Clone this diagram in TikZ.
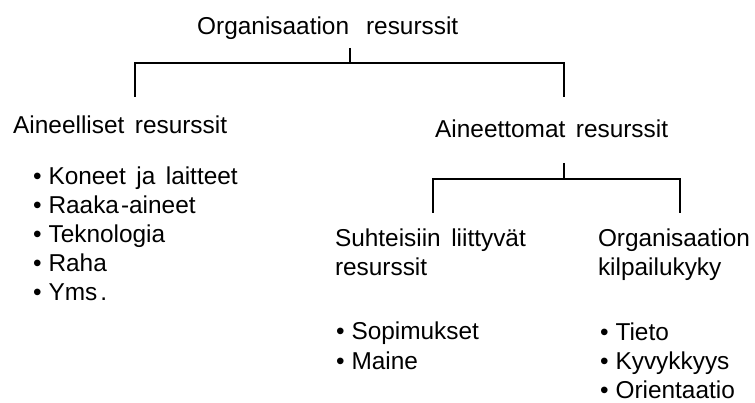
\documentclass[tikz,border=0pt]{standalone}
\usepackage{fontspec}
\setmainfont{Liberation Sans}
\usetikzlibrary{matrix,positioning}

\newcommand{\nodefont}{\fontsize{24.4}{29}\selectfont\spaceskip=10.5pt\relax}
\newcommand{\itm}{•\hspace{7pt}}
\tikzset{
	txt/.style={font=\nodefont},
	heading/.style={txt,anchor=base west,inner sep=0pt},
	items/.style={
		matrix of nodes,inner sep=0pt,outer sep=0pt,row sep=5pt,anchor=north west,
		nodes={txt,anchor=base west,inner sep=0pt,text height=18pt,text depth=6pt}
	},
	branch/.style={line width=1.6pt}
}

\begin{document}
\begin{tikzpicture}[x=1pt,y=-1pt]
	\useasboundingbox (0,0) rectangle (755,403);
	% top level
	\node[heading] (root) at (197,35) {Organisaation\hspace{17pt}resurssit};
	\node[heading] (tang) at (13,134) {Aineelliset resurssit};
	\node[heading] (intang) at (435,138) {Aineettomat resurssit};
			\matrix(tlist)[items] at (33,167)
			{
	\itm Koneet ja laitteet \\
	\itm Raaka\hspace{2pt}-aineet \\
	\itm Teknologia \\
	\itm Raha \\
	\itm Yms\hspace{3pt}. \\
			};
	% second level
			\matrix(rel)[items] at (335,229)
			{
	Suhteisiin liittyvät \\
	resurssit \\
			};
			\matrix(comp)[items] at (598,229)
			{
	Organisaation \\
	kilpailukyky \\
			};
			\matrix(rlist)[items] at (336,322)
			{
	\itm Sopimukset \\
	\itm Maine \\
			};
			\matrix(clist)[items] at (600,322)
			{
	\itm Tieto \\
	\itm Kyvykkyys \\
	\itm Orientaatio \\
			};
	% brackets
	\coordinate (rootfoot) at (350,48);
	\coordinate (b1) at (350,63);
	\coordinate (tfoot) at (135,97);
	\coordinate (ifoot) at (564,97);
	\draw[branch] (rootfoot) -- (b1);
	\draw[branch] (tfoot) |- (b1) -| (ifoot);
	\coordinate (intfoot) at (564,163);
	\coordinate (b2) at (564,179);
	\coordinate (relfoot) at (433,213);
	\coordinate (compfoot) at (680,213);
	\draw[branch] (intfoot) -- (b2);
	\draw[branch] (relfoot) |- (b2) -| (compfoot);
\end{tikzpicture}
\end{document}
